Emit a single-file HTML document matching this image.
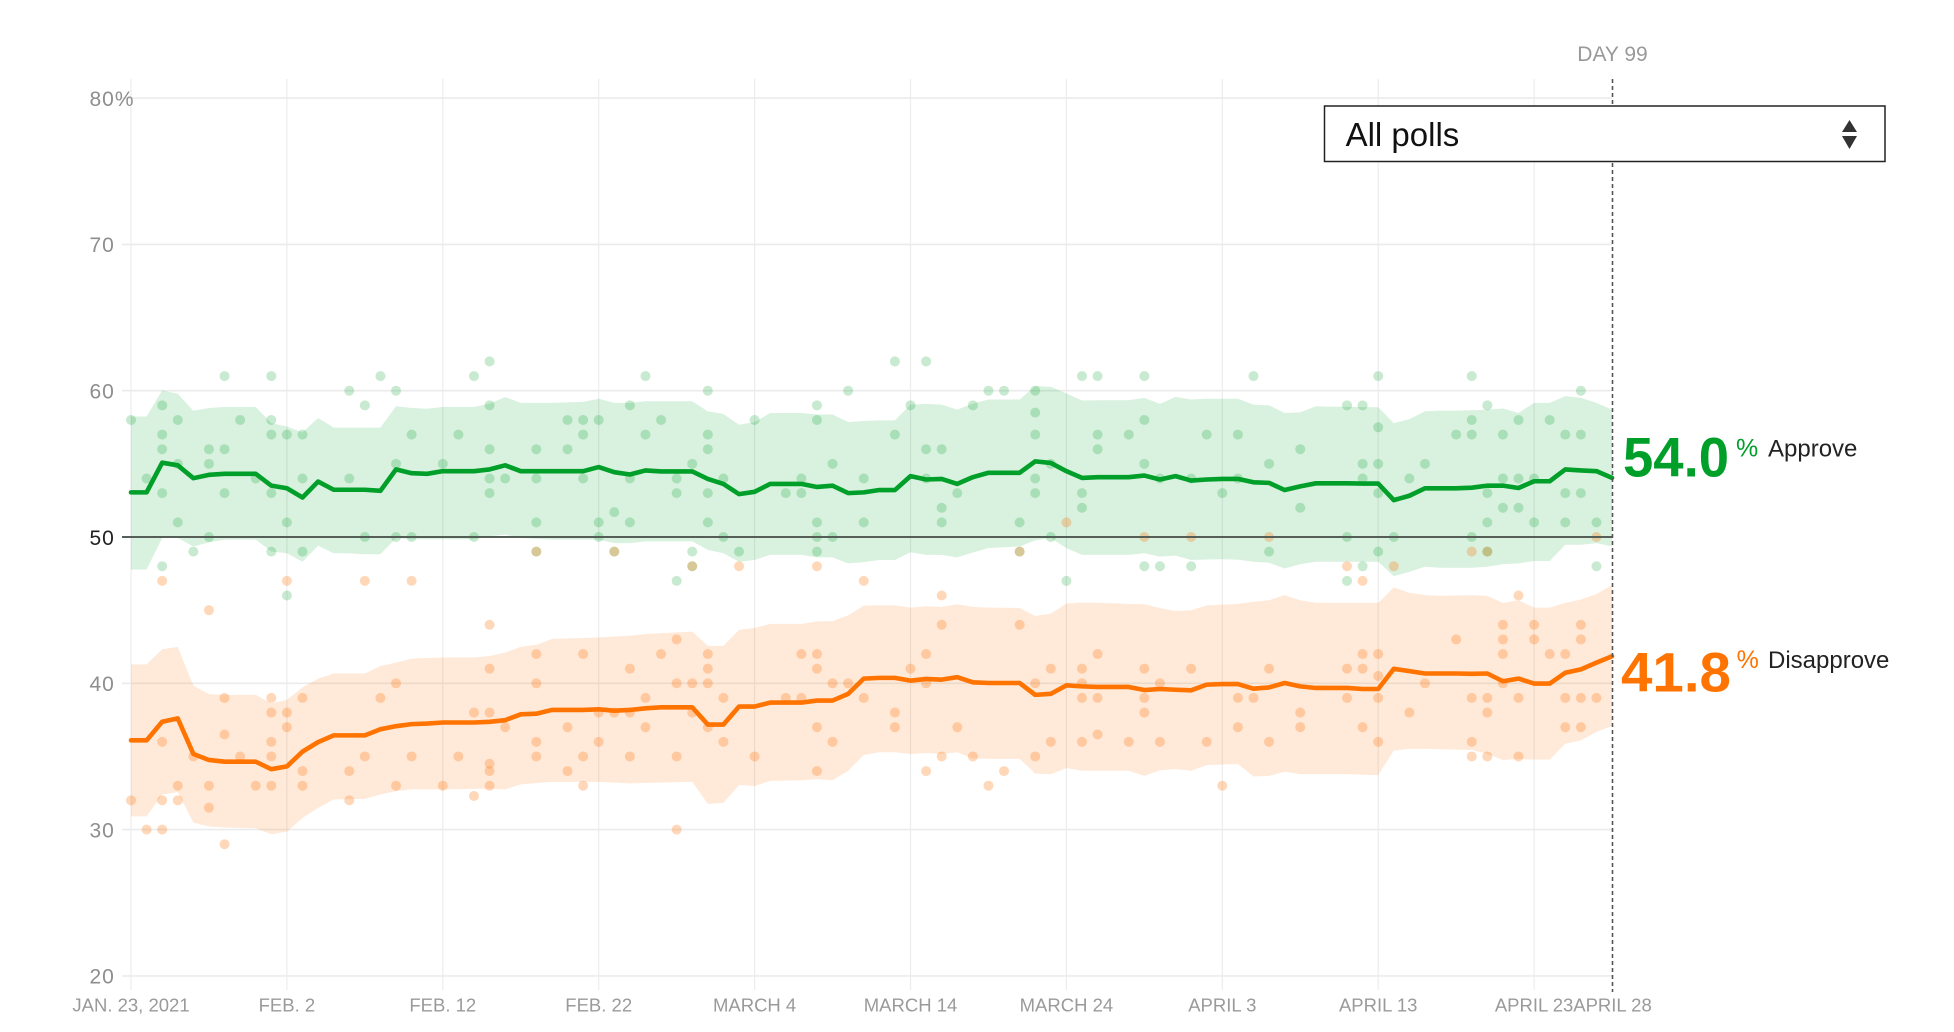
<!DOCTYPE html>
<html>
<head>
<meta charset="utf-8">
<style>
html,body{margin:0;padding:0;background:#fff;}
body{width:1954px;height:1032px;overflow:hidden;}
svg{display:block;}
text{font-family:"Liberation Sans",Arial,sans-serif;}
.yl{font-size:21px;fill:#8e8e8e;letter-spacing:1px;}
.xl{font-size:18.5px;fill:#9a9a9a;text-anchor:middle;}
.ns{vector-effect:non-scaling-stroke;}
</style>
</head>
<body>
<svg width="1954" height="1032" viewBox="0 0 1954 1032" xmlns="http://www.w3.org/2000/svg">
<defs>
<ellipse id="g" rx=".321" ry=".342" fill="#009f29" fill-opacity=".22"/>
<ellipse id="o" rx=".321" ry=".342" fill="#ff7000" fill-opacity=".27"/>
</defs>
<rect width="1954" height="1032" fill="#fff"/>

<!-- vertical gridlines -->
<g stroke="#ececec" stroke-width="1.2">
<line x1="131" y1="79" x2="131" y2="990"/>
<line x1="286.9" y1="79" x2="286.9" y2="990"/>
<line x1="442.8" y1="79" x2="442.8" y2="990"/>
<line x1="598.7" y1="79" x2="598.7" y2="990"/>
<line x1="754.6" y1="79" x2="754.6" y2="990"/>
<line x1="910.5" y1="79" x2="910.5" y2="990"/>
<line x1="1066.4" y1="79" x2="1066.4" y2="990"/>
<line x1="1222.3" y1="79" x2="1222.3" y2="990"/>
<line x1="1378.2" y1="79" x2="1378.2" y2="990"/>
<line x1="1534.1" y1="79" x2="1534.1" y2="990"/>
</g>
<!-- horizontal gridlines -->
<g stroke="#ebebeb" stroke-width="1.6">
<line x1="122" y1="98.1" x2="1612" y2="98.1"/>
<line x1="122" y1="244.4" x2="1612" y2="244.4"/>
<line x1="122" y1="390.7" x2="1612" y2="390.7"/>
<line x1="122" y1="683.3" x2="1612" y2="683.3"/>
<line x1="122" y1="829.6" x2="1612" y2="829.6"/>
<line x1="122" y1="975.9" x2="1612" y2="975.9"/>
</g>

<!-- y labels -->
<text class="yl" x="89.5" y="106">80%</text>
<text class="yl" x="89.5" y="252.2">70</text>
<text class="yl" x="89.5" y="398.5">60</text>
<text class="yl" x="89.5" y="544.8" style="fill:#222">50</text>
<text class="yl" x="89.5" y="691.1">40</text>
<text class="yl" x="89.5" y="837.4">30</text>
<text class="yl" x="89.5" y="983.7">20</text>

<!-- x labels -->
<text class="xl" x="131" y="1011.7">JAN. 23, 2021</text>
<text class="xl" x="286.9" y="1011.7">FEB. 2</text>
<text class="xl" x="442.8" y="1011.7">FEB. 12</text>
<text class="xl" x="598.7" y="1011.7">FEB. 22</text>
<text class="xl" x="754.6" y="1011.7">MARCH 4</text>
<text class="xl" x="910.5" y="1011.7">MARCH 14</text>
<text class="xl" x="1066.4" y="1011.7">MARCH 24</text>
<text class="xl" x="1222.3" y="1011.7">APRIL 3</text>
<text class="xl" x="1378.2" y="1011.7">APRIL 13</text>
<text class="xl" x="1534.1" y="1011.7">APRIL 23</text>
<text class="xl" x="1612.5" y="1011.7">APRIL 28</text>

<text x="1612.5" y="61" style="font-size:21px;fill:#999;text-anchor:middle">DAY 99</text>

<g transform="translate(131 537) scale(15.59 -14.63)">
<!-- green band -->
<polygon fill="#009f29" fill-opacity="0.15" points="0,8.24 1,8.24 2,10.02 3,9.79 4,8.63 5,8.82 6,8.89 7,8.89 8,8.89 9,7.78 10,7.55 11,7.14 12,8.13 13,7.48 14,7.48 15,7.48 16,7.48 17,8.94 18,8.82 19,8.77 20,8.89 21,8.89 22,8.89 23,9.12 24,9.56 25,9.17 26,9.17 27,9.17 28,9.2 29,9.24 30,9.45 31,9.17 32,9.17 33,9.28 34,9.28 35,9.28 36,9.28 37,8.59 38,8.41 39,7.67 40,7.85 41,8.48 42,8.48 43,8.48 44,8.37 45,8.37 46,7.85 47,7.93 48,7.97 49,7.97 50,9.05 51,9.1 52,9.05 53,8.71 54,9.12 55,9.4 56,9.4 57,9.4 58,10.32 59,10.27 60,9.82 61,9.33 62,9.35 63,9.35 64,9.35 65,9.51 66,9.1 67,9.58 68,9.4 69,9.45 70,9.45 71,9.45 72,9.05 73,9 74,8.48 75,8.52 76,8.94 77,8.9 78,8.9 79,8.88 80,8.87 81,7.78 82,8.06 83,8.59 84,8.64 85,8.64 86,8.66 87,8.71 88,8.78 89,8.48 90,9.17 91,9.17 92,9.63 93,9.51 94,9.17 95,8.71 95,-0.65 94,-0.42 93,-0.53 92,-0.53 91,-1.64 90,-1.64 89,-1.8 88,-1.85 87,-2.03 86,-2.1 85,-2.1 84,-2.1 83,-2.03 82,-2.38 81,-2.68 80,-1.69 79,-1.69 78,-1.69 77,-1.69 76,-1.69 75,-1.85 74,-2.15 73,-1.76 72,-1.69 71,-1.55 70,-1.52 69,-1.54 68,-1.57 67,-1.27 66,-1.34 65,-1.11 64,-1.22 63,-1.22 62,-1.22 61,-1.22 60,-0.76 59,-0.07 58,-0.23 57,-0.65 56,-0.7 55,-0.76 54,-1.06 53,-1.39 52,-1.22 51,-1.22 50,-1.04 49,-1.57 48,-1.57 47,-1.72 46,-1.8 45,-1.39 44,-1.39 43,-1.22 42,-1.22 41,-1.22 40,-1.57 39,-1.69 38,-1.11 37,-0.88 36,-0.3 35,-0.3 34,-0.3 33,-0.3 32,-0.42 31,-0.42 30,-0.18 29,-0.18 28,-0.18 27,-0.18 26,-0.12 25,-0.07 24,0.16 23,0.05 22,-0.15 21,-0.15 20,-0.15 19,-0.15 18,-0.15 17,-0.07 16,-1.18 15,-1.18 14,-1.11 13,-1.11 12,-0.6 11,-1.69 10,-1.11 9,-0.99 8,-0.18 7,-0.18 6,-0.18 5,-0.37 4,-0.65 3,-0.07 2,-0.07 1,-2.22 0,-2.22"/>
<!-- orange band -->
<polygon fill="#ff7300" fill-opacity="0.15" points="0,-8.71 1,-8.71 2,-7.67 3,-7.51 4,-10.16 5,-10.74 6,-10.79 7,-10.79 8,-10.79 9,-11.36 10,-11.13 11,-10.28 12,-9.68 13,-9.33 14,-9.33 15,-9.33 16,-8.82 17,-8.59 18,-8.31 19,-8.27 20,-8.24 21,-8.24 22,-8.24 23,-8.13 24,-7.9 25,-7.51 26,-7.37 27,-6.97 28,-6.93 29,-6.9 30,-6.86 31,-6.8 32,-6.74 33,-6.63 34,-6.58 35,-6.52 36,-6.47 37,-7.44 38,-7.44 39,-6.35 40,-6.21 41,-5.94 42,-5.94 43,-5.94 44,-5.77 45,-5.75 46,-5.36 47,-4.69 48,-4.67 49,-4.67 50,-4.83 51,-4.73 52,-4.78 53,-4.6 54,-4.78 55,-4.83 56,-4.84 57,-4.85 58,-5.4 59,-5.24 60,-4.55 61,-4.48 62,-4.5 63,-4.53 64,-4.57 65,-4.6 66,-4.85 67,-5.06 68,-5.01 69,-4.67 70,-4.62 71,-4.57 72,-4.43 73,-4.32 74,-3.97 75,-4.32 76,-4.5 77,-4.5 78,-4.5 79,-4.5 80,-4.5 81,-3.44 82,-3.81 83,-3.97 84,-4.02 85,-4 86,-3.97 87,-4.02 88,-4.5 89,-4.32 90,-4.83 91,-4.83 92,-4.5 93,-4.27 94,-3.9 95,-3.28 95,-12.91 94,-13.33 93,-13.9 92,-14.13 91,-15.22 90,-15.22 89,-15.17 88,-15.24 87,-14.83 86,-14.55 85,-14.53 84,-14.5 83,-14.48 82,-14.48 81,-14.6 80,-16.28 79,-16.25 78,-16.21 77,-16.21 76,-16.21 75,-16.21 74,-16.05 73,-16.33 72,-16.37 71,-15.52 70,-15.55 69,-15.59 68,-15.98 67,-15.87 66,-15.94 65,-16.33 64,-15.98 63,-15.98 62,-15.98 61,-15.98 60,-15.8 59,-16.21 58,-16.17 57,-15.17 56,-15.17 55,-15.17 54,-15.13 53,-14.71 52,-14.83 51,-14.76 50,-14.83 49,-14.71 48,-14.71 47,-14.9 46,-15.98 45,-16.63 44,-16.56 43,-16.63 42,-16.65 41,-16.67 40,-17.02 39,-16.95 38,-18.18 37,-18.24 36,-16.74 35,-16.76 34,-16.78 33,-16.81 32,-16.84 31,-16.79 30,-16.74 29,-16.74 28,-16.74 27,-16.74 26,-16.82 25,-16.91 24,-17.25 23,-17.21 22,-17.22 21,-17.23 20,-17.25 19,-17.25 18,-17.25 17,-17.37 16,-17.6 15,-17.9 14,-17.92 13,-17.94 12,-18.52 11,-19.21 10,-20.14 9,-20.32 8,-19.91 7,-19.88 6,-19.86 5,-19.79 4,-19.52 3,-17.44 2,-17.6 1,-19.1 0,-19.1"/>

<!-- green dots -->
<g>
<use href="#g" x="0" y="8"/><use href="#g" x="2" y="9"/><use href="#g" x="2" y="7"/><use href="#g" x="2" y="6"/><use href="#g" x="3" y="8"/><use href="#g" x="3" y="5"/><use href="#g" x="1" y="4"/><use href="#g" x="2" y="3"/><use href="#g" x="5" y="6"/><use href="#g" x="5" y="5"/><use href="#g" x="6" y="6"/><use href="#g" x="6" y="11"/><use href="#g" x="6" y="3"/><use href="#g" x="7" y="8"/><use href="#g" x="8" y="4"/><use href="#g" x="9" y="11"/><use href="#g" x="9" y="8"/><use href="#g" x="9" y="7"/><use href="#g" x="9" y="3"/><use href="#g" x="10" y="7"/><use href="#g" x="11" y="7"/><use href="#g" x="11" y="4"/><use href="#g" x="3" y="1"/><use href="#g" x="5" y="0"/><use href="#g" x="4" y="-1"/><use href="#g" x="2" y="-2"/><use href="#g" x="9" y="-1"/><use href="#g" x="10" y="1"/><use href="#g" x="10" y="-4"/><use href="#g" x="11" y="-1"/><use href="#g" x="14" y="10"/><use href="#g" x="15" y="9"/><use href="#g" x="16" y="11"/><use href="#g" x="17" y="10"/><use href="#g" x="14" y="4"/><use href="#g" x="15" y="0"/><use href="#g" x="17" y="5"/><use href="#g" x="17" y="0"/><use href="#g" x="18" y="7"/><use href="#g" x="18" y="0"/><use href="#g" x="20" y="5"/><use href="#g" x="21" y="7"/><use href="#g" x="22" y="11"/><use href="#g" x="22" y="0"/><use href="#g" x="23" y="12"/><use href="#g" x="23" y="9"/><use href="#g" x="23" y="6"/><use href="#g" x="23" y="4"/><use href="#g" x="23" y="3"/><use href="#g" x="24" y="4"/>
<use href="#g" x="33" y="11"/><use href="#g" x="37" y="10"/><use href="#g" x="46" y="10"/><use href="#g" x="32" y="9"/><use href="#g" x="44" y="9"/><use href="#g" x="28" y="8"/><use href="#g" x="29" y="8"/><use href="#g" x="30" y="8"/><use href="#g" x="34" y="8"/><use href="#g" x="40" y="8"/><use href="#g" x="44" y="8"/><use href="#g" x="29" y="7"/><use href="#g" x="33" y="7"/><use href="#g" x="37" y="7"/><use href="#g" x="26" y="6"/><use href="#g" x="28" y="6"/><use href="#g" x="37" y="6"/><use href="#g" x="36" y="5"/><use href="#g" x="45" y="5"/><use href="#g" x="26" y="4"/><use href="#g" x="29" y="4"/><use href="#g" x="32" y="4"/><use href="#g" x="35" y="4"/><use href="#g" x="38" y="4"/><use href="#g" x="43" y="4"/><use href="#g" x="47" y="4"/><use href="#g" x="35" y="3"/><use href="#g" x="37" y="3"/><use href="#g" x="42" y="3"/><use href="#g" x="43" y="3"/><use href="#g" x="31" y="1.7"/><use href="#g" x="26" y="1"/><use href="#g" x="30" y="1"/><use href="#g" x="32" y="1"/><use href="#g" x="37" y="1"/><use href="#g" x="44" y="1"/><use href="#g" x="47" y="1"/><use href="#g" x="30" y="0"/><use href="#g" x="38" y="0"/><use href="#g" x="44" y="0"/><use href="#g" x="45" y="0"/><use href="#g" x="36" y="-1"/><use href="#g" x="39" y="-1"/><use href="#g" x="44" y="-1"/><use href="#g" x="35" y="-3"/><use href="#g" x="26" y="-1"/><use href="#g" x="31" y="-1"/><use href="#g" x="36" y="-2"/>
<use href="#g" x="49" y="12"/><use href="#g" x="51" y="12"/><use href="#g" x="61" y="11"/><use href="#g" x="62" y="11"/><use href="#g" x="65" y="11"/><use href="#g" x="55" y="10"/><use href="#g" x="56" y="10"/><use href="#g" x="58" y="10"/><use href="#g" x="50" y="9"/><use href="#g" x="54" y="9"/><use href="#g" x="58" y="8.5"/><use href="#g" x="65" y="8"/><use href="#g" x="49" y="7"/><use href="#g" x="58" y="7"/><use href="#g" x="62" y="7"/><use href="#g" x="64" y="7"/><use href="#g" x="69" y="7"/><use href="#g" x="71" y="7"/><use href="#g" x="51" y="6"/><use href="#g" x="52" y="6"/><use href="#g" x="62" y="6"/><use href="#g" x="65" y="5"/><use href="#g" x="59" y="5"/><use href="#g" x="51" y="4"/><use href="#g" x="58" y="4"/><use href="#g" x="66" y="4"/><use href="#g" x="68" y="4"/><use href="#g" x="71" y="4"/><use href="#g" x="53" y="3"/><use href="#g" x="58" y="3"/><use href="#g" x="61" y="3"/><use href="#g" x="70" y="3"/><use href="#g" x="52" y="2"/><use href="#g" x="61" y="2"/><use href="#g" x="52" y="1"/><use href="#g" x="57" y="1"/><use href="#g" x="59" y="0"/><use href="#g" x="65" y="-2"/><use href="#g" x="66" y="-2"/><use href="#g" x="68" y="-2"/><use href="#g" x="60" y="-3"/><use href="#g" x="57" y="-1"/>
<use href="#g" x="72" y="11"/><use href="#g" x="80" y="11"/><use href="#g" x="86" y="11"/><use href="#g" x="93" y="10"/><use href="#g" x="78" y="9"/><use href="#g" x="79" y="9"/><use href="#g" x="87" y="9"/><use href="#g" x="86" y="8"/><use href="#g" x="89" y="8"/><use href="#g" x="91" y="8"/><use href="#g" x="80" y="7.5"/><use href="#g" x="85" y="7"/><use href="#g" x="86" y="7"/><use href="#g" x="88" y="7"/><use href="#g" x="92" y="7"/><use href="#g" x="93" y="7"/><use href="#g" x="75" y="6"/><use href="#g" x="73" y="5"/><use href="#g" x="79" y="5"/><use href="#g" x="80" y="5"/><use href="#g" x="83" y="5"/><use href="#g" x="79" y="4"/><use href="#g" x="82" y="4"/><use href="#g" x="88" y="4"/><use href="#g" x="89" y="4"/><use href="#g" x="90" y="4"/><use href="#g" x="80" y="3"/><use href="#g" x="87" y="3"/><use href="#g" x="92" y="3"/><use href="#g" x="93" y="3"/><use href="#g" x="75" y="2"/><use href="#g" x="88" y="2"/><use href="#g" x="89" y="2"/><use href="#g" x="87" y="1"/><use href="#g" x="90" y="1"/><use href="#g" x="92" y="1"/><use href="#g" x="94" y="1"/><use href="#g" x="78" y="0"/><use href="#g" x="81" y="0"/><use href="#g" x="86" y="0"/><use href="#g" x="73" y="-1"/><use href="#g" x="80" y="-1"/><use href="#g" x="79" y="-2"/><use href="#g" x="78" y="-3"/><use href="#g" x="94" y="-2"/><use href="#g" x="87" y="-1"/>
</g>
<!-- orange dots -->
<g>
<use href="#o" x="2" y="-3"/><use href="#o" x="10" y="-3"/><use href="#o" x="5" y="-5"/><use href="#o" x="15" y="-3"/><use href="#o" x="18" y="-3"/><use href="#o" x="23" y="-6"/><use href="#o" x="23" y="-9"/><use href="#o" x="17" y="-10"/><use href="#o" x="16" y="-11"/><use href="#o" x="6" y="-11"/><use href="#o" x="9" y="-11"/><use href="#o" x="11" y="-11"/><use href="#o" x="9" y="-12"/><use href="#o" x="10" y="-12"/><use href="#o" x="10" y="-13"/><use href="#o" x="22" y="-12"/><use href="#o" x="23" y="-12"/><use href="#o" x="6" y="-13.5"/><use href="#o" x="2" y="-14"/><use href="#o" x="9" y="-14"/><use href="#o" x="4" y="-15"/><use href="#o" x="7" y="-15"/><use href="#o" x="9" y="-15"/><use href="#o" x="11" y="-16"/><use href="#o" x="14" y="-16"/><use href="#o" x="15" y="-15"/><use href="#o" x="18" y="-15"/><use href="#o" x="21" y="-15"/><use href="#o" x="23" y="-15.5"/><use href="#o" x="23" y="-16"/><use href="#o" x="3" y="-17"/><use href="#o" x="5" y="-17"/><use href="#o" x="8" y="-17"/><use href="#o" x="9" y="-17"/><use href="#o" x="11" y="-17"/><use href="#o" x="17" y="-17"/><use href="#o" x="20" y="-17"/><use href="#o" x="23" y="-17"/><use href="#o" x="0" y="-18"/><use href="#o" x="2" y="-18"/><use href="#o" x="3" y="-18"/><use href="#o" x="5" y="-18.5"/><use href="#o" x="14" y="-18"/><use href="#o" x="22" y="-17.7"/><use href="#o" x="1" y="-20"/><use href="#o" x="2" y="-20"/><use href="#o" x="6" y="-21"/>
<use href="#o" x="39" y="-2"/><use href="#o" x="44" y="-2"/><use href="#o" x="47" y="-3"/><use href="#o" x="35" y="-7"/><use href="#o" x="26" y="-8"/><use href="#o" x="29" y="-8"/><use href="#o" x="34" y="-8"/><use href="#o" x="37" y="-8"/><use href="#o" x="43" y="-8"/><use href="#o" x="44" y="-8"/><use href="#o" x="32" y="-9"/><use href="#o" x="37" y="-9"/><use href="#o" x="44" y="-9"/><use href="#o" x="26" y="-10"/><use href="#o" x="35" y="-10"/><use href="#o" x="36" y="-10"/><use href="#o" x="37" y="-10"/><use href="#o" x="45" y="-10"/><use href="#o" x="46" y="-10"/><use href="#o" x="33" y="-11"/><use href="#o" x="38" y="-11"/><use href="#o" x="42" y="-11"/><use href="#o" x="43" y="-11"/><use href="#o" x="47" y="-11"/><use href="#o" x="30" y="-12"/><use href="#o" x="31" y="-12"/><use href="#o" x="32" y="-12"/><use href="#o" x="36" y="-12"/><use href="#o" x="37" y="-13"/><use href="#o" x="24" y="-13"/><use href="#o" x="28" y="-13"/><use href="#o" x="33" y="-13"/><use href="#o" x="44" y="-13"/><use href="#o" x="26" y="-14"/><use href="#o" x="30" y="-14"/><use href="#o" x="38" y="-14"/><use href="#o" x="45" y="-14"/><use href="#o" x="26" y="-15"/><use href="#o" x="29" y="-15"/><use href="#o" x="32" y="-15"/><use href="#o" x="35" y="-15"/><use href="#o" x="40" y="-15"/><use href="#o" x="28" y="-16"/><use href="#o" x="44" y="-16"/><use href="#o" x="29" y="-17"/><use href="#o" x="35" y="-20"/><use href="#o" x="26" y="-1"/><use href="#o" x="31" y="-1"/><use href="#o" x="36" y="-2"/>
<use href="#o" x="52" y="-4"/><use href="#o" x="52" y="-6"/><use href="#o" x="57" y="-6"/><use href="#o" x="51" y="-8"/><use href="#o" x="62" y="-8"/><use href="#o" x="50" y="-9"/><use href="#o" x="59" y="-9"/><use href="#o" x="61" y="-9"/><use href="#o" x="65" y="-9"/><use href="#o" x="68" y="-9"/><use href="#o" x="51" y="-10"/><use href="#o" x="58" y="-10"/><use href="#o" x="61" y="-10"/><use href="#o" x="66" y="-10"/><use href="#o" x="61" y="-11"/><use href="#o" x="62" y="-11"/><use href="#o" x="65" y="-11"/><use href="#o" x="71" y="-11"/><use href="#o" x="49" y="-12"/><use href="#o" x="65" y="-12"/><use href="#o" x="49" y="-13"/><use href="#o" x="53" y="-13"/><use href="#o" x="71" y="-13"/><use href="#o" x="62" y="-13.5"/><use href="#o" x="59" y="-14"/><use href="#o" x="61" y="-14"/><use href="#o" x="64" y="-14"/><use href="#o" x="66" y="-14"/><use href="#o" x="69" y="-14"/><use href="#o" x="52" y="-15"/><use href="#o" x="54" y="-15"/><use href="#o" x="58" y="-15"/><use href="#o" x="51" y="-16"/><use href="#o" x="56" y="-16"/><use href="#o" x="55" y="-17"/><use href="#o" x="70" y="-17"/><use href="#o" x="57" y="-1"/><use href="#o" x="60" y="1"/><use href="#o" x="65" y="0"/><use href="#o" x="68" y="0"/>
<use href="#o" x="73" y="0"/><use href="#o" x="94" y="0"/><use href="#o" x="86" y="-1"/><use href="#o" x="78" y="-2"/><use href="#o" x="79" y="-3"/><use href="#o" x="81" y="-2"/><use href="#o" x="89" y="-4"/><use href="#o" x="88" y="-6"/><use href="#o" x="90" y="-6"/><use href="#o" x="93" y="-6"/><use href="#o" x="85" y="-7"/><use href="#o" x="88" y="-7"/><use href="#o" x="90" y="-7"/><use href="#o" x="93" y="-7"/><use href="#o" x="79" y="-8"/><use href="#o" x="80" y="-8"/><use href="#o" x="88" y="-8"/><use href="#o" x="91" y="-8"/><use href="#o" x="92" y="-8"/><use href="#o" x="73" y="-9"/><use href="#o" x="78" y="-9"/><use href="#o" x="79" y="-9"/><use href="#o" x="80" y="-9.5"/><use href="#o" x="83" y="-10"/><use href="#o" x="88" y="-10"/><use href="#o" x="72" y="-11"/><use href="#o" x="78" y="-11"/><use href="#o" x="80" y="-11"/><use href="#o" x="86" y="-11"/><use href="#o" x="87" y="-11"/><use href="#o" x="89" y="-11"/><use href="#o" x="92" y="-11"/><use href="#o" x="93" y="-11"/><use href="#o" x="94" y="-11"/><use href="#o" x="75" y="-12"/><use href="#o" x="82" y="-12"/><use href="#o" x="87" y="-12"/><use href="#o" x="75" y="-13"/><use href="#o" x="79" y="-13"/><use href="#o" x="92" y="-13"/><use href="#o" x="93" y="-13"/><use href="#o" x="73" y="-14"/><use href="#o" x="80" y="-14"/><use href="#o" x="86" y="-14"/><use href="#o" x="86" y="-15"/><use href="#o" x="87" y="-15"/><use href="#o" x="89" y="-15"/><use href="#o" x="87" y="-1"/>
</g>
</g>

<!-- 50 line -->
<line x1="122" y1="537" x2="1612" y2="537" stroke="#565e58" stroke-width="2"/>

<g transform="translate(131 537) scale(15.59 -14.63)" fill="none" stroke-linejoin="round" stroke-linecap="round">
<polyline class="ns" stroke="#009f29" stroke-width="4.6" points="0,3.05 1,3.05 2,5.08 3,4.9 4,4.02 5,4.25 6,4.32 7,4.32 8,4.32 9,3.51 10,3.33 11,2.7 12,3.79 13,3.23 14,3.23 15,3.23 16,3.16 17,4.62 18,4.36 19,4.32 20,4.5 21,4.5 22,4.5 23,4.62 24,4.9 25,4.5 26,4.5 27,4.5 28,4.5 29,4.5 30,4.78 31,4.43 32,4.27 33,4.55 34,4.48 35,4.48 36,4.48 37,3.97 38,3.63 39,2.93 40,3.09 41,3.63 42,3.63 43,3.63 44,3.42 45,3.51 46,3 47,3.05 48,3.21 49,3.21 50,4.16 51,3.93 52,3.97 53,3.63 54,4.09 55,4.39 56,4.39 57,4.39 58,5.17 59,5.06 60,4.5 61,4.04 62,4.09 63,4.09 64,4.09 65,4.2 66,3.93 67,4.16 68,3.86 69,3.93 70,3.97 71,3.97 72,3.74 73,3.7 74,3.21 75,3.46 76,3.67 77,3.67 78,3.67 79,3.65 80,3.65 81,2.52 82,2.82 83,3.33 84,3.33 85,3.33 86,3.37 87,3.51 88,3.51 89,3.35 90,3.81 91,3.81 92,4.62 93,4.55 94,4.5 95,4.04"/>
<polyline class="ns" stroke="#ff7300" stroke-width="4.6" points="0,-13.9 1,-13.9 2,-12.63 3,-12.4 4,-14.83 5,-15.24 6,-15.36 7,-15.36 8,-15.36 9,-15.87 10,-15.68 11,-14.67 12,-14.02 13,-13.56 14,-13.56 15,-13.56 16,-13.14 17,-12.93 18,-12.79 19,-12.75 20,-12.68 21,-12.68 22,-12.68 23,-12.63 24,-12.52 25,-12.12 26,-12.08 27,-11.82 28,-11.82 29,-11.82 30,-11.78 31,-11.87 32,-11.82 33,-11.71 34,-11.64 35,-11.64 36,-11.64 37,-12.82 38,-12.82 39,-11.59 40,-11.59 41,-11.32 42,-11.32 43,-11.32 44,-11.18 45,-11.18 46,-10.72 47,-9.68 48,-9.63 49,-9.63 50,-9.82 51,-9.7 52,-9.75 53,-9.58 54,-9.93 55,-9.98 56,-9.98 57,-9.98 58,-10.79 59,-10.72 60,-10.14 61,-10.21 62,-10.25 63,-10.25 64,-10.25 65,-10.46 66,-10.39 67,-10.44 68,-10.48 69,-10.09 70,-10.05 71,-10.05 72,-10.37 73,-10.28 74,-9.98 75,-10.21 76,-10.32 77,-10.32 78,-10.32 79,-10.39 80,-10.39 81,-9.01 82,-9.17 83,-9.33 84,-9.33 85,-9.33 86,-9.35 87,-9.33 88,-9.86 89,-9.68 90,-10.02 91,-10.02 92,-9.28 93,-9.05 94,-8.59 95,-8.15"/>
</g>

<!-- day 99 dashed line -->
<line x1="1612.5" y1="79" x2="1612.5" y2="992" stroke="#555" stroke-width="1.6" stroke-dasharray="4 3"/>

<!-- dropdown -->
<rect x="1324.5" y="106" width="560.5" height="55.5" fill="#fff" stroke="#222" stroke-width="1.5"/>
<text x="1345.6" y="146" style="font-size:33px;fill:#111">All polls</text>
<polygon points="1842,132 1857,132 1849.5,120" fill="#333"/>
<polygon points="1842,136 1857,136 1849.5,149" fill="#333"/>

<!-- end labels -->
<text x="1623" y="476.7" textLength="106" lengthAdjust="spacingAndGlyphs" style="font-size:56px;font-weight:bold;fill:#009f29">54.0</text>
<text x="1736" y="456.7" style="font-size:25px;fill:#009f29">%</text>
<text x="1768" y="456.7" style="font-size:24px;fill:#222">Approve</text>

<text x="1621" y="691.3" textLength="110" lengthAdjust="spacingAndGlyphs" style="font-size:56px;font-weight:bold;fill:#ff7300">41.8</text>
<text x="1736.6" y="668" style="font-size:25px;fill:#ff7300">%</text>
<text x="1768" y="668" style="font-size:24px;fill:#222">Disapprove</text>
</svg>
</body>
</html>
